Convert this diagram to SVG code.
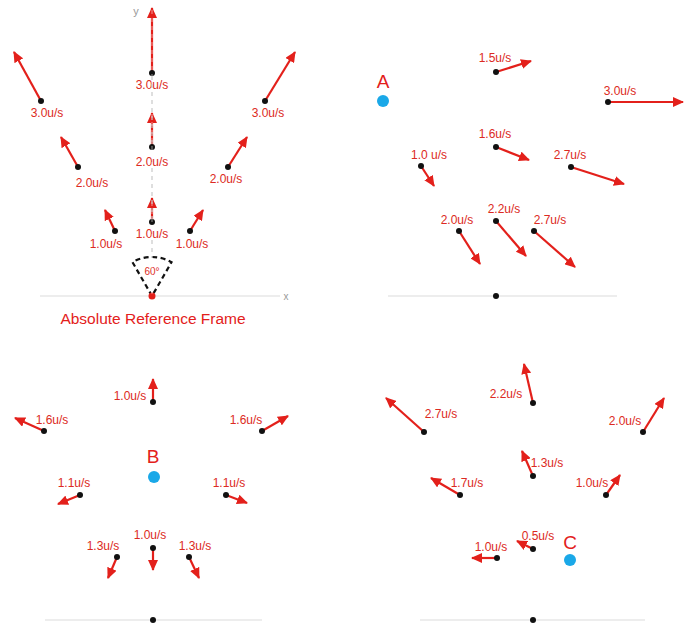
<svg xmlns="http://www.w3.org/2000/svg" width="688" height="624" viewBox="0 0 688 624">
<style>
.bg{fill:#fff}
.ax{stroke:#dcdcdc;stroke-width:1.2;fill:none}
.yax{stroke:#c8c8c8;stroke-width:1.2;stroke-dasharray:4 4;fill:none}
.v{stroke:#e3201b;stroke-width:2.2;fill:none;marker-end:url(#ah)}
.d{fill:#111}
.o{fill:#e3201b}
.lb{font-family:"Liberation Sans",Arial,sans-serif;font-size:12px;fill:#dc2a22;text-anchor:middle}
.big{font-family:"Liberation Sans",Arial,sans-serif;font-size:19px;fill:#e3201b;text-anchor:middle}
.ttl{font-family:"Liberation Sans",Arial,sans-serif;font-size:15.5px;fill:#e3201b;text-anchor:middle}
.axl{font-family:"Liberation Sans",Arial,sans-serif;font-size:10px;fill:#999;text-anchor:middle}
.ref{fill:#1aa8e8}
.wedge{stroke:#111;stroke-width:2.2;stroke-dasharray:5 3.5;fill:none}
</style>
<defs>
<marker id="ah" viewBox="0 0 11 10" refX="10" refY="5" markerWidth="11" markerHeight="10" markerUnits="userSpaceOnUse" orient="auto">
<path d="M0,0 L11,5 L0,10 Z" fill="#e3201b"/>
</marker>
</defs>
<rect class="bg" x="0" y="0" width="688" height="624"/>

<!-- Panel 1: Absolute reference frame -->
<g id="frame-abs">
<line class="ax" x1="40" y1="296" x2="280" y2="296"/>
<text class="axl" x="286" y="300">x</text>
<text class="axl" x="136" y="15" style="font-size:11px">y</text>
<path class="wedge" d="M152,296 L132.5,262.2 A39,39 0 0 1 171.5,262.2 Z"/>
<text class="lb" x="152" y="275" style="font-size:10px">60°</text>
<circle class="o" cx="152" cy="296" r="3.5"/>
<text class="ttl" x="153" y="324">Absolute Reference Frame</text>
</g>
<g id="a-c1"><line class="v" x1="152" y1="222" x2="152" y2="198"/><circle class="d" cx="152" cy="222" r="3"/><text class="lb" x="152" y="238">1.0u/s</text></g>
<g id="a-c2"><line class="v" x1="152" y1="147" x2="152" y2="113"/><circle class="d" cx="152" cy="147" r="3"/><text class="lb" x="152" y="166">2.0u/s</text></g>
<g id="a-c3"><line class="v" x1="152" y1="73" x2="152" y2="8"/><circle class="d" cx="152" cy="73" r="3"/><text class="lb" x="152" y="89">3.0u/s</text></g>
<line class="yax" x1="152" y1="10" x2="152" y2="294" style="stroke:#ffffff;stroke-opacity:0.45"/>
<line class="yax" x1="152" y1="76" x2="152" y2="144"/>
<line class="yax" x1="152" y1="168" x2="152" y2="219"/>
<line class="yax" x1="152" y1="240" x2="152" y2="258"/>
<g id="a-l1"><line class="v" x1="115" y1="231" x2="105" y2="210"/><circle class="d" cx="115" cy="231" r="3"/><text class="lb" x="106" y="248">1.0u/s</text></g>
<g id="a-r1"><line class="v" x1="190" y1="231" x2="203" y2="210"/><circle class="d" cx="190" cy="231" r="3"/><text class="lb" x="192" y="248">1.0u/s</text></g>
<g id="a-l2"><line class="v" x1="78" y1="167" x2="61" y2="137"/><circle class="d" cx="78" cy="167" r="3"/><text class="lb" x="92" y="187">2.0u/s</text></g>
<g id="a-r2"><line class="v" x1="228" y1="167" x2="247" y2="137"/><circle class="d" cx="228" cy="167" r="3"/><text class="lb" x="226" y="183">2.0u/s</text></g>
<g id="a-l3"><line class="v" x1="41" y1="101" x2="14" y2="52"/><circle class="d" cx="41" cy="101" r="3"/><text class="lb" x="47" y="117">3.0u/s</text></g>
<g id="a-r3"><line class="v" x1="265" y1="101" x2="295" y2="52"/><circle class="d" cx="265" cy="101" r="3"/><text class="lb" x="268" y="117">3.0u/s</text></g>

<!-- Panel 2: frame A -->
<g id="frame-A">
<line class="ax" x1="388" y1="296" x2="617" y2="296"/>
<circle class="d" cx="496" cy="296" r="3"/>
<text class="big" x="383" y="88">A</text>
<circle class="ref" cx="383" cy="101" r="6"/>
</g>
<g id="A-1"><line class="v" x1="496" y1="72" x2="531" y2="61"/><circle class="d" cx="496" cy="72" r="3"/><text class="lb" x="495" y="62">1.5u/s</text></g>
<g id="A-2"><line class="v" x1="608" y1="102" x2="683" y2="102"/><circle class="d" cx="608" cy="102" r="3"/><text class="lb" x="620" y="95">3.0u/s</text></g>
<g id="A-3"><line class="v" x1="496" y1="147" x2="529" y2="160"/><circle class="d" cx="496" cy="147" r="3"/><text class="lb" x="495" y="138">1.6u/s</text></g>
<g id="A-4"><line class="v" x1="421" y1="166" x2="434" y2="186"/><circle class="d" cx="421" cy="166" r="3"/><text class="lb" x="429" y="159">1.0 u/s</text></g>
<g id="A-5"><line class="v" x1="571" y1="167" x2="624" y2="184"/><circle class="d" cx="571" cy="167" r="3"/><text class="lb" x="570" y="159">2.7u/s</text></g>
<g id="A-6"><line class="v" x1="459" y1="231" x2="480" y2="264"/><circle class="d" cx="459" cy="231" r="3"/><text class="lb" x="457" y="224">2.0u/s</text></g>
<g id="A-7"><line class="v" x1="496" y1="221" x2="526" y2="256"/><circle class="d" cx="496" cy="221" r="3"/><text class="lb" x="504" y="213">2.2u/s</text></g>
<g id="A-8"><line class="v" x1="534" y1="231" x2="575" y2="267"/><circle class="d" cx="534" cy="231" r="3"/><text class="lb" x="550" y="224">2.7u/s</text></g>

<!-- Panel 3: frame B -->
<g id="frame-B">
<line class="ax" x1="45" y1="620" x2="262" y2="620"/>
<circle class="d" cx="153" cy="620" r="3"/>
<text class="big" x="153" y="463">B</text>
<circle class="ref" cx="154" cy="477" r="6"/>
</g>
<g id="B-1"><line class="v" x1="153" y1="402" x2="153" y2="379"/><circle class="d" cx="153" cy="402" r="3"/><text class="lb" x="130" y="400">1.0u/s</text></g>
<g id="B-2"><line class="v" x1="44" y1="431" x2="15" y2="418"/><circle class="d" cx="44" cy="431" r="3"/><text class="lb" x="52" y="424">1.6u/s</text></g>
<g id="B-3"><line class="v" x1="262" y1="431" x2="288" y2="416"/><circle class="d" cx="262" cy="431" r="3"/><text class="lb" x="246" y="424">1.6u/s</text></g>
<g id="B-4"><line class="v" x1="80" y1="495" x2="58" y2="504"/><circle class="d" cx="80" cy="495" r="3"/><text class="lb" x="74" y="487">1.1u/s</text></g>
<g id="B-5"><line class="v" x1="226" y1="495" x2="247" y2="503"/><circle class="d" cx="226" cy="495" r="3"/><text class="lb" x="229" y="487">1.1u/s</text></g>
<g id="B-6"><line class="v" x1="153" y1="548" x2="153" y2="570"/><circle class="d" cx="153" cy="548" r="3"/><text class="lb" x="150" y="539">1.0u/s</text></g>
<g id="B-7"><line class="v" x1="117" y1="557" x2="108" y2="578"/><circle class="d" cx="117" cy="557" r="3"/><text class="lb" x="103" y="550">1.3u/s</text></g>
<g id="B-8"><line class="v" x1="189" y1="557" x2="199" y2="578"/><circle class="d" cx="189" cy="557" r="3"/><text class="lb" x="195" y="550">1.3u/s</text></g>

<!-- Panel 4: frame C -->
<g id="frame-C">
<line class="ax" x1="420" y1="620" x2="645" y2="620"/>
<circle class="d" cx="533" cy="620" r="3"/>
<text class="big" x="570" y="549">C</text>
<circle class="ref" cx="570" cy="560" r="6"/>
</g>
<g id="C-1"><line class="v" x1="533" y1="403" x2="524" y2="364"/><circle class="d" cx="533" cy="403" r="3"/><text class="lb" x="506" y="398">2.2u/s</text></g>
<g id="C-2"><line class="v" x1="424" y1="432" x2="386" y2="398"/><circle class="d" cx="424" cy="432" r="3"/><text class="lb" x="441" y="418">2.7u/s</text></g>
<g id="C-3"><line class="v" x1="643" y1="432" x2="664" y2="398"/><circle class="d" cx="643" cy="432" r="3"/><text class="lb" x="625" y="425">2.0u/s</text></g>
<g id="C-4"><line class="v" x1="533" y1="476" x2="522" y2="451"/><circle class="d" cx="533" cy="476" r="3"/><text class="lb" x="547" y="467">1.3u/s</text></g>
<g id="C-5"><line class="v" x1="460" y1="495" x2="431" y2="478"/><circle class="d" cx="460" cy="495" r="3"/><text class="lb" x="467" y="487">1.7u/s</text></g>
<g id="C-6"><line class="v" x1="606" y1="495" x2="620" y2="475"/><circle class="d" cx="606" cy="495" r="3"/><text class="lb" x="592" y="487">1.0u/s</text></g>
<g id="C-7"><line class="v" x1="533" y1="549" x2="517" y2="541"/><circle class="d" cx="533" cy="549" r="3"/><text class="lb" x="538" y="540">0.5u/s</text></g>
<g id="C-8"><line class="v" x1="497" y1="558" x2="472" y2="558"/><circle class="d" cx="497" cy="558" r="3"/><text class="lb" x="491" y="551">1.0u/s</text></g>
</svg>
